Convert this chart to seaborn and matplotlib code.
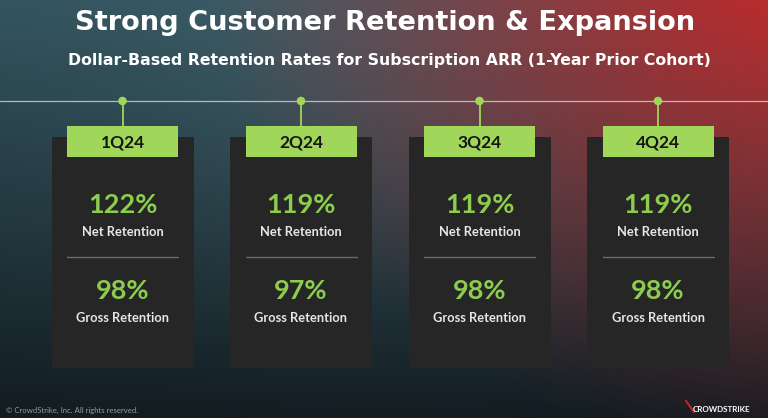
import numpy as np
import matplotlib
matplotlib.use("Agg")
import matplotlib.pyplot as plt
import seaborn as sns
import pandas as pd
from matplotlib.patches import Rectangle

# ---- data ----
quarters = ["1Q24", "2Q24", "3Q24", "4Q24"]
net_retention = [122, 119, 119, 119]
gross_retention = [98, 97, 98, 98]
net_label = "Net Retention"
gross_label = "Gross Retention"
title = "Strong Customer Retention & Expansion"
subtitle = "Dollar-Based Retention Rates for Subscription ARR (1-Year Prior Cohort)"
footer = "© CrowdStrike, Inc. All rights reserved."
brand = "CROWDSTRIKE"

df = pd.DataFrame({"quarter": quarters, "net": net_retention, "gross": gross_retention})
df["idx"] = np.arange(len(df))

sns.set_theme(style="white")
plt.rcParams['font.family'] = ['Lato', 'DejaVu Sans']

W, H = 768, 418
SP = 178.5          # px per category step
X0 = 122.5          # px of first category
fig = plt.figure(figsize=(W / 100, H / 100), dpi=100)
ax = fig.add_axes([0, 0, 1, 1])
xmin, xmax = -X0 / SP, (W - X0) / SP
ax.set_xlim(xmin, xmax)
ax.set_ylim(H, 0)
ax.axis("off")

def u(px):
    return px / SP

# ---- background gradient ----
ys, xs = np.mgrid[0:H, 0:W].astype(float)
t = ys / H
top = np.array([0.20, 0.33, 0.37])
bot = np.array([0.07, 0.11, 0.13])
base = top[None, None, :] * (1 - t[..., None]) + bot[None, None, :] * t[..., None]
haze = np.exp(-(((xs - 380) / 260) ** 2 + ((ys - 120) / 200) ** 2))
base = base + 0.05 * haze[..., None]
red = np.array([0.82, 0.14, 0.14])
d = np.sqrt((xs - 820) ** 2 + ((ys + 60) * 1.2) ** 2)
w = np.clip(1 - d / 620, 0, 1) ** 1.1
bg = base * (1 - w[..., None]) + red[None, None, :] * w[..., None]
ax.imshow(np.clip(bg, 0, 1), extent=(xmin, xmax, H, 0), aspect="auto", zorder=0, interpolation="bilinear")

# ---- title (fitted to width) ----
renderer = fig.canvas.get_renderer()

def fitted_text(xc, yc, s, target_w, size, **kw):
    txt = fig.text(xc / W, 1 - yc / H, s, ha="center", va="center", fontsize=size, **kw)
    bw = txt.get_window_extent(renderer=renderer).width
    txt.set_fontsize(size * target_w / bw)
    return txt

fitted_text(385, 23, title, 620, 20, color="white", fontweight="bold", family=["DejaVu Sans"])
fitted_text(389, 61, subtitle, 638, 12, color="white", fontweight="bold", family=["DejaVu Sans"])

# ---- timeline ----
LINE_Y = 101
ax.axhline(LINE_Y, color="#cfcfcf", lw=0.9, alpha=0.85, zorder=1)
GREEN = "#a0d65a"
ax.vlines(df["idx"], LINE_Y, 126, color=GREEN, lw=1.3, zorder=2)
sns.scatterplot(x=df["idx"], y=np.full(len(df), LINE_Y), ax=ax, s=38, color=GREEN,
                edgecolor="none", zorder=3, legend=False)
ax.set_xlim(xmin, xmax)
ax.set_ylim(H, 0)
ax.axis("off")

# ---- cards ----
CW, BW = u(142), u(111)
for i, row in df.iterrows():
    x = row["idx"]
    ax.add_patch(Rectangle((x - CW / 2, 137), CW, 231, fc="#262626", ec="none", zorder=2))
    ax.add_patch(Rectangle((x - BW / 2, 126), BW, 31, fc=GREEN, ec="none", zorder=3))
    ax.text(x, 142, row["quarter"], ha="center", va="center", fontsize=12.5,
            fontweight="bold", color="#151515", zorder=4)
    ax.text(x, 205, f"{row['net']}%", ha="center", va="center", fontsize=19.5,
            fontweight="bold", color="#8ccc4e", zorder=4)
    ax.text(x, 232, net_label, ha="center", va="center", fontsize=9.3,
            fontweight="bold", color="#e6e6e6", zorder=4)
    ax.plot([x - BW / 2, x + BW / 2], [257, 257], color="#6a6a6a", lw=1.0, zorder=4)
    ax.text(x, 291, f"{row['gross']}%", ha="center", va="center", fontsize=19.5,
            fontweight="bold", color="#8ccc4e", zorder=4)
    ax.text(x, 318, gross_label, ha="center", va="center", fontsize=9.3,
            fontweight="bold", color="#e6e6e6", zorder=4)

# ---- footer ----
fig.text(6 / W, 1 - 410 / H, footer, ha="left", va="center", color="#9a9a9a", fontsize=5.6)
fig.text(750 / W, 1 - 409 / H, brand, ha="right", va="center", color="white", fontsize=5.8, fontweight="bold")
ax.plot([u(686) + xmin, u(694) + xmin], [401, 412], color="#c0262a", lw=1.5, zorder=4)

fig.savefig("out.png", dpi=100)
